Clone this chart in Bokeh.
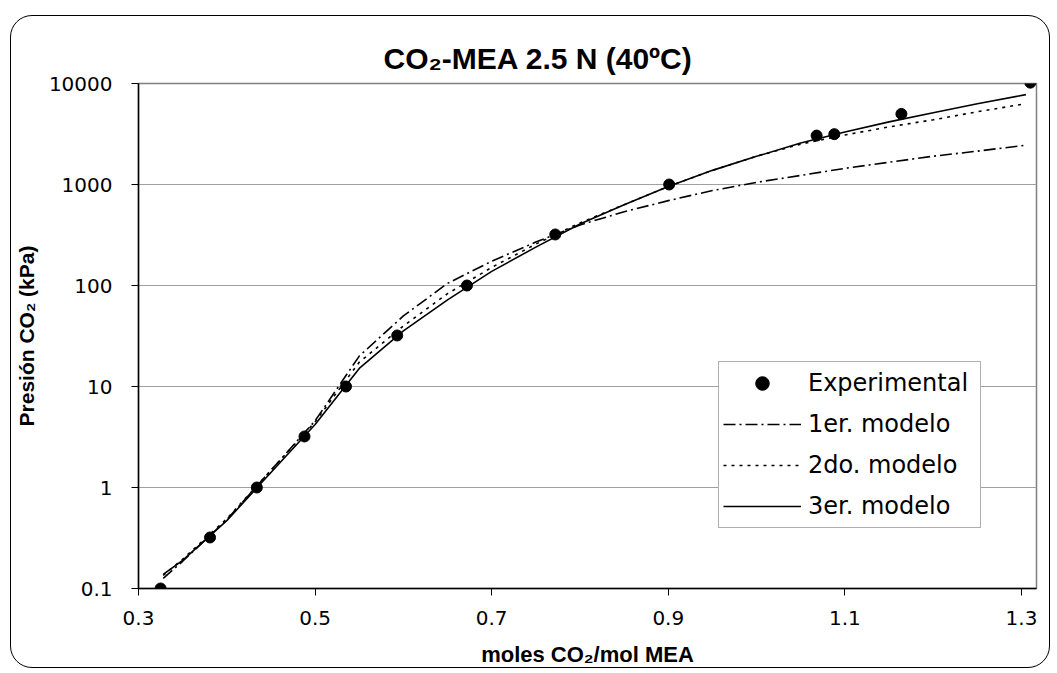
from bokeh.plotting import figure
from bokeh.models import FixedTicker, Legend, LegendItem, ColumnDataSource, Range1d
from bokeh.embed import file_html
from bokeh.resources import INLINE

# Experimental data
exp_x = [0.325, 0.381, 0.434, 0.488, 0.535, 0.593, 0.672, 0.772, 0.901, 1.068, 1.088, 1.164, 1.310]
exp_y = [0.1, 0.32, 1.0, 3.2, 10, 32, 100, 320, 1000, 3050, 3150, 5000, 10200]

# Model curves
model_x = [0.328, 0.35, 0.4, 0.45, 0.5, 0.55, 0.6, 0.65, 0.7, 0.75, 0.8, 0.85,
           0.9, 0.95, 1.0, 1.05, 1.1, 1.15, 1.2, 1.25, 1.305]
model1_y = [0.126, 0.186, 0.48, 1.48, 4.57, 20, 50, 105, 174, 269, 398, 537,
            692, 871, 1050, 1230, 1445, 1660, 1905, 2140, 2450]
model2_y = [0.135, 0.195, 0.49, 1.48, 4.47, 17.4, 39.8, 83, 151, 257, 417, 631,
            955, 1380, 1905, 2510, 3090, 3720, 4370, 5250, 6310]
model3_y = [0.138, 0.19, 0.47, 1.41, 4.2, 15.1, 35.5, 72, 138, 240, 407, 630,
            955, 1380, 1900, 2570, 3310, 4170, 5130, 6310, 7760]

x_ticks = [0.3, 0.5, 0.7, 0.9, 1.1, 1.3]
x_tick_labels = ["0.3", "0.5", "0.7", "0.9", "1.1", "1.3"]
y_ticks = [0.1, 1, 10, 100, 1000, 10000]
y_tick_labels = ["0.1", "1", "10", "100", "1000", "10000"]

title_text = "CO₂-MEA 2.5 N (40ºC)"
x_label = "moles CO₂/mol MEA"
y_label = "Presión CO₂ (kPa)"
series_names = ["Experimental", "1er. modelo", "2do. modelo", "3er. modelo"]

p = figure(width=1040, height=653, y_axis_type="log",
           x_range=Range1d(0.3, 1.317), y_range=Range1d(0.1, 10000),
           output_backend="svg", toolbar_location=None,
           min_border_left=125, min_border_right=15,
           min_border_top=67, min_border_bottom=81)
p.margin = (15, 7, 5, 10)
p.styles = {"border": "1.5px solid black", "border-radius": "22px"}
p.border_fill_alpha = 0
p.background_fill_color = "white"
p.outline_line_color = "#808080"
p.outline_line_width = 1.5

p.title.text = title_text
p.title.text_font = "Liberation Sans"
p.title.text_font_style = "bold"
p.title.text_font_size = "30px"
p.title.text_color = "black"
p.title.align = "left"
p.title.offset = 245
p.title.standoff = 18

src_m = ColumnDataSource(dict(x=model_x, y1=model1_y, y2=model2_y, y3=model3_y))
src_e = ColumnDataSource(dict(x=exp_x, y=exp_y))

r1 = p.line("x", "y1", source=src_m, line_color="black", line_width=1.6, line_dash="12 4 2 4")
r2 = p.line("x", "y2", source=src_m, line_color="black", line_width=1.6, line_dash="3 5")
r3 = p.line("x", "y3", source=src_m, line_color="black", line_width=1.6)
re = p.scatter("x", "y", source=src_e, size=11, marker="circle", fill_color="black", line_color="black")

for ax, ticks, labels in ((p.xaxis[0], x_ticks, x_tick_labels), (p.yaxis[0], y_ticks, y_tick_labels)):
    ax.ticker = FixedTicker(ticks=ticks, minor_ticks=[])
    ax.major_label_overrides = {t: l for t, l in zip(ticks, labels)}
    ax.major_label_text_font = "DejaVu Sans"
    ax.major_label_text_font_size = "20px"
    ax.major_label_text_color = "black"
    ax.axis_line_color = "black"
    ax.axis_line_width = 1.5
    ax.major_tick_line_color = "black"
    ax.major_tick_out = 7
    ax.major_tick_in = 0
    ax.minor_tick_out = 0
    ax.minor_tick_in = 0
    ax.axis_label_text_font = "Liberation Sans"
    ax.axis_label_text_font_style = "bold"
    ax.axis_label_text_color = "black"

p.xaxis.axis_label = x_label
p.xaxis.axis_label_text_font_size = "22px"
p.xaxis.major_label_standoff = 15
p.xaxis.axis_label_standoff = 14
p.yaxis.axis_label = y_label
p.yaxis.axis_label_text_font_size = "21px"
p.yaxis.major_label_standoff = 19
p.yaxis.axis_label_standoff = 8

p.xgrid.grid_line_color = None
p.ygrid.grid_line_color = "#a0a0a0"
p.ygrid.grid_line_width = 1.2

legend = Legend(items=[
    LegendItem(label=series_names[0], renderers=[re]),
    LegendItem(label=series_names[1], renderers=[r1]),
    LegendItem(label=series_names[2], renderers=[r2]),
    LegendItem(label=series_names[3], renderers=[r3]),
], location=(580, 60))
legend.label_text_font = "DejaVu Sans"
legend.label_text_font_size = "24px"
legend.label_text_color = "black"
legend.glyph_width = 78
legend.glyph_height = 34
legend.label_height = 34
legend.label_standoff = 7
legend.label_width = 168
legend.spacing = 7
legend.padding = 4
legend.margin = 0
legend.border_line_color = "#606060"
legend.border_line_width = 1.5
legend.background_fill_color = "white"
legend.background_fill_alpha = 1
p.add_layout(legend, "center")

open("out.html", "w").write(file_html(p, INLINE))
